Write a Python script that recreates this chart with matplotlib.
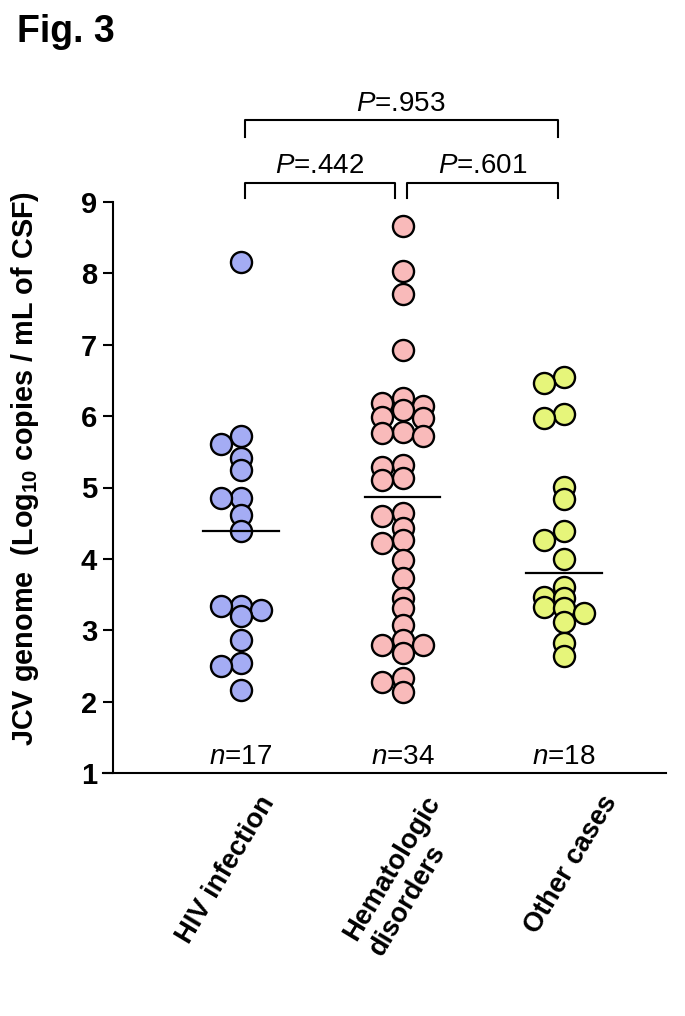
import numpy as np
import matplotlib
matplotlib.use("Agg")
import matplotlib.pyplot as plt

plt.rcParams['font.family'] = ['Liberation Sans', 'DejaVu Sans']
plt.rcParams['mathtext.fontset'] = 'custom'
plt.rcParams['mathtext.rm'] = 'Liberation Sans'
plt.rcParams['mathtext.it'] = 'Liberation Sans:italic'
plt.rcParams['mathtext.bf'] = 'Liberation Sans:bold'
plt.rcParams['mathtext.default'] = 'regular'

# ---------------- data ----------------
categories = ["HIV infection", "Hematologic\ndisorders", "Other cases"]
hiv = [8.16, 5.72, 5.61, 5.41, 5.25, 4.85, 4.85, 4.61, 4.39, 3.34, 3.34,
       3.28, 3.20, 2.87, 2.54, 2.50, 2.16]
hema = [8.67, 8.04, 7.71, 6.92, 6.25, 6.18, 6.14, 6.08, 5.99, 5.97, 5.78,
        5.76, 5.72, 5.31, 5.29, 5.13, 5.10, 4.64, 4.60, 4.43, 4.26, 4.22,
        3.98, 3.73, 3.45, 3.31, 3.07, 2.86, 2.79, 2.79, 2.68, 2.33, 2.28, 2.14]
other = [6.55, 6.47, 6.03, 5.98, 5.01, 4.84, 4.39, 4.26, 4.00, 3.60, 3.47,
         3.45, 3.33, 3.31, 3.24, 3.12, 2.82, 2.64]
groups = [hiv, hema, other]
colors = ["#a4acf4", "#f9baba", "#e6f57a"]
pvalues = [".442", ".601", ".953"]
yticks = [1, 2, 3, 4, 5, 6, 7, 8, 9]


def swarm_offsets(vals, col=0.124, thr=0.13):
    """Simple column beeswarm: place each point in the nearest free column."""
    order = np.argsort(vals)[::-1]
    placed = []  # (col_index, value)
    offs = np.zeros(len(vals))
    for i in order:
        v = vals[i]
        for c in [0, -1, 1, -2, 2, -3, 3]:
            if all(abs(v - pv) >= thr for pc, pv in placed if pc == c):
                placed.append((c, v))
                offs[i] = c * col
                break
    return offs


fig = plt.figure(figsize=(6.85, 10.16), dpi=100)
ax = fig.add_axes([113 / 685, 1 - 773 / 1016, (666 - 113) / 685, (773 - 202) / 1016])

for gi, (vals, colr) in enumerate(zip(groups, colors)):
    xpos = gi + 1
    vals = np.asarray(vals)
    offs = swarm_offsets(vals)
    ax.scatter(xpos + offs, vals, s=230, facecolor=colr, edgecolor='black',
               linewidth=1.7, zorder=3, clip_on=False)
    med = np.median(vals)
    ax.plot([xpos - 0.235, xpos + 0.235], [med, med], color='black', lw=1.6, zorder=4)
    ax.text(xpos, 1.13, r"$\it{n}$=%d" % len(vals), ha='center', va='baseline',
            fontsize=20)

ax.set_xlim(113 / 161.5 - 241 / 161.5 + 1, 1 + (666 - 241) / 161.5)
ax.set_ylim(1, 9)
ax.set_yticks(yticks)
ax.set_yticklabels([str(t) for t in yticks], fontsize=21, fontweight='bold')
ax.tick_params(axis='y', direction='out', length=7.5, width=1.5, pad=4)
ax.set_xticks([])
for s in ['top', 'right']:
    ax.spines[s].set_visible(False)
ax.spines['left'].set_linewidth(1.5)
ax.spines['bottom'].set_linewidth(1.5)
ax.spines['bottom'].set_bounds(ax.get_xlim()[0] - 0.062, ax.get_xlim()[1])

# category labels
label_dx = [12, 15, 26]
for gi, (lab, dx) in enumerate(zip(categories, label_dx)):
    ax.annotate(lab, xy=(gi + 1, 1), xycoords='data', xytext=(dx, -13),
                textcoords='offset points', rotation=59, ha='right', va='top',
                rotation_mode='anchor', multialignment='left',
                fontsize=19.6, fontweight='bold', annotation_clip=False)

# significance brackets
def bracket(x1, x2, ytop, ybot, txt):
    ax.plot([x1, x1, x2, x2], [ybot, ytop, ytop, ybot], color='black', lw=1.5,
            clip_on=False)
    ax.text((x1 + x2) / 2, ytop + 0.13, r"$\it{P}$=" + txt, ha='center',
            va='baseline', fontsize=20)

bracket(1.025, 1.955, 9.27, 9.05, pvalues[0])
bracket(2.03, 2.96, 9.27, 9.05, pvalues[1])
bracket(1.025, 2.96, 10.15, 9.91, pvalues[2])

fig.text(25 / 685, 1 - 468 / 1016, r"JCV genome  (Log$_{10}$ copies / mL of CSF)",
         rotation=90, ha='center', va='center', fontsize=20.8, fontweight='bold')
fig.text(17 / 685, 1 - 42 / 1016, "Fig. 3", ha='left', va='baseline',
         fontsize=27, fontweight='bold')

fig.savefig("out.png", dpi=100, facecolor='white')
